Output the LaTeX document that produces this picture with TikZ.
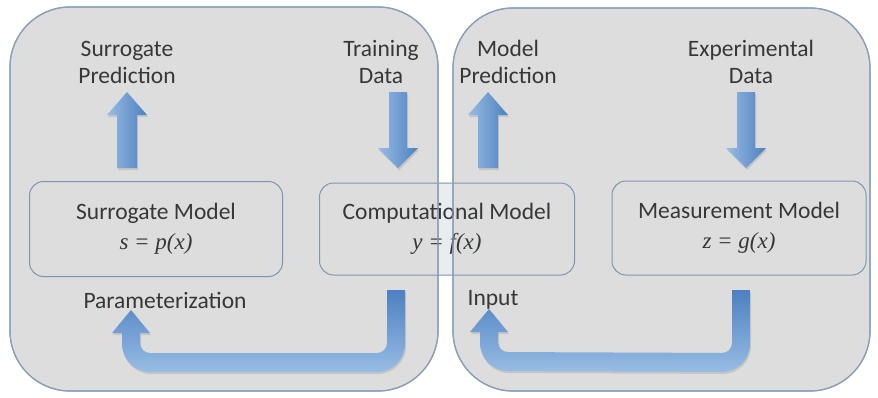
\documentclass[tikz,border=0pt]{standalone}
\usepackage{fontspec}
\setmainfont{Carlito}
\newfontfamily\eqfont{Liberation Serif}
\usetikzlibrary{backgrounds,shadows,calc}

\definecolor{panelfill}{RGB}{221,221,221}
\definecolor{panelline}{RGB}{138,160,186}
\definecolor{boxline}{RGB}{128,150,176}
\definecolor{gaptint}{RGB}{233,237,242}
\definecolor{arrowlight}{RGB}{152,188,228}
\definecolor{arrowdark}{RGB}{76,128,192}
\definecolor{inktext}{RGB}{55,55,55}

\tikzset{
  panel/.style={rounded corners=60, line width=1.2pt, draw=panelline},
  modelbox/.style={draw=boxline, line width=1pt, rounded corners=14, align=center,
    text=inktext, font=\fontsize{23.5}{30}\selectfont},
  lbl/.style={align=center, text=inktext, font=\fontsize{23.5}{27}\selectfont},
  fatarrow/.style={left color=arrowlight, right color=arrowdark,
    drop shadow={opacity=.25, shadow xshift=1pt, shadow yshift=-2pt}},
  bentarrow/.style={top color=arrowdark, bottom color=arrowlight,
    drop shadow={opacity=.25, shadow xshift=1pt, shadow yshift=-2pt}}
}

% block arrows, drawn from a named coordinate
\newcommand{\uparr}[1]{%
  \path[fatarrow] (#1) ++(-10,0) -- ++(0,-53) -- ++(-10,0) -- ++(20,-23)
    -- ++(20,23) -- ++(-10,0) -- ++(0,53) -- cycle;}
\newcommand{\downarr}[1]{%
  \path[fatarrow] (#1) ++(-9,0) -- ++(0,56) -- ++(-11,0) -- ++(20,20)
    -- ++(20,-20) -- ++(-11,0) -- ++(0,-56) -- cycle;}
% #1: top of the right arm (outer edge), #2: tip of the head
\newcommand{\bentarr}[2]{%
  \path[bentarrow] (#1) [rounded corners=28] -- ++(0,82) -- ($(#2)+(-9,62)$)
    [sharp corners] -- ++(0,-39) -- ++(-10,0) -- (#2) -- ++(19,23) -- ++(-10,0)
    [rounded corners=10] -- ++(0,20) -- ($(#1)+(-18,63)$)
    [sharp corners] -- ++(0,-63) -- cycle;}

\begin{document}
\begin{tikzpicture}[x=1pt,y=-1pt]
  \useasboundingbox (0,0) rectangle (878,397);

  % models
  \node[modelbox, minimum width=253pt, minimum height=95pt] (surr) at (156,229)
    {Surrogate Model\\{\eqfont\itshape\fontsize{23}{30}\selectfont s = p(x)}};
  \node[modelbox, minimum width=255pt, minimum height=92pt] (comp) at (447,229)
    {Computational Model\\{\eqfont\itshape\fontsize{23}{30}\selectfont y = f(x)}};
  \node[modelbox, minimum width=254pt, minimum height=94pt] (meas) at (739,228)
    {Measurement Model\\{\eqfont\itshape\fontsize{23}{30}\selectfont z = g(x)}};

  % the two panels
  \begin{scope}[on background layer]
    \fill[gaptint, rounded corners=14] (comp.south west) rectangle (comp.north east);
    \draw[panel, fill=panelfill] (10,7) rectangle (438,391);
    \draw[panel, fill=panelfill] (453,8) rectangle (870,391);
  \end{scope}
  \draw[panel] (10,7) rectangle (438,391);
  \draw[panel] (453,8) rectangle (870,391);

  % labels
  \node[lbl] (sprd) at (127,62) {Surrogate\\Prediction};
  \node[lbl] (trdat) at (381,62) {Training\\Data};
  \node[lbl] (mprd) at (508,62) {Model\\Prediction};
  \node[lbl] (exdat) at (751,62) {Experimental\\Data};
  \node[lbl] (param) at (165,300) {Parameterization};
  \node[lbl] (inp) at (493,300) {Input};

  % arrows
  \coordinate (spfoot) at (127,168);
  \coordinate (trtop) at (398,92);
  \coordinate (mpfoot) at (488,168);
  \coordinate (extop) at (746,92);
  \uparr{spfoot}
  \downarr{trtop}
  \uparr{mpfoot}
  \downarr{extop}

  \coordinate (cfoot) at (405,290);
  \coordinate (ptip) at (131,310);
  \coordinate (mfoot) at (750,290);
  \coordinate (itip) at (489,309);
  \bentarr{cfoot}{ptip}
  \bentarr{mfoot}{itip}
\end{tikzpicture}
\end{document}
